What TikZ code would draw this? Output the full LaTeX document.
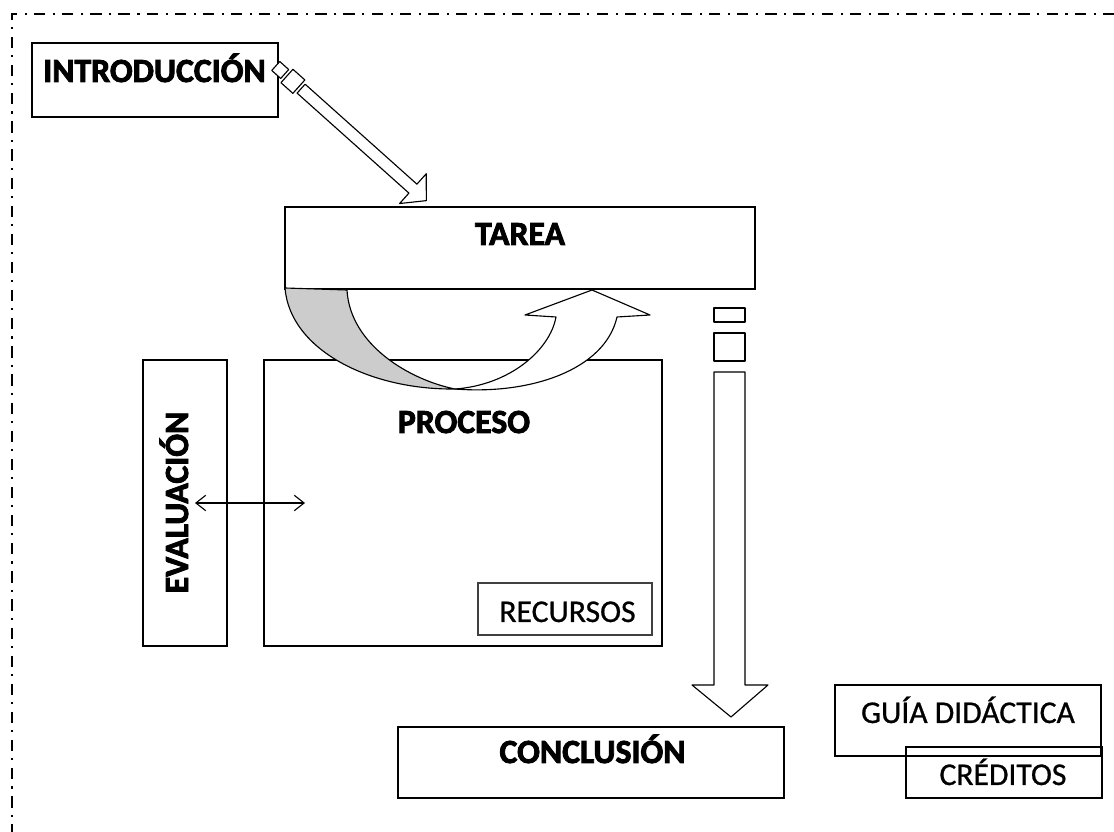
\documentclass[tikz,border=0pt]{standalone}
\usepackage{fontspec}
\setmainfont{Carlito}
\newfontfamily\heavyfont{Carlito}[BoldFeatures={FakeBold=2.5}]
\newfontfamily\lightfont{Carlito}[FakeBold=0.8]
\usetikzlibrary{arrows.meta}

\begin{document}
\begin{tikzpicture}[x=0.025cm,y=-0.025cm]
  \tikzstyle{box}=[draw,line width=1.3pt,inner sep=0pt]
  \tikzstyle{thinbox}=[draw,line width=0.9pt,inner sep=0pt]
  \tikzstyle{heading}=[anchor=base,inner sep=0pt,font=\heavyfont\bfseries\fontsize{24}{27}\selectfont]
  \tikzstyle{plain}=[anchor=base,inner sep=0pt,font=\lightfont\fontsize{22.5}{25}\selectfont]
  \tikzstyle{hollow}=[draw,line width=0.8pt,fill=white,line join=round]
  \useasboundingbox (0,0) rectangle (1114,832);
  % frame
  \draw[line width=1.5pt,dash pattern=on 8pt off 5pt on 1.5pt off 5.5pt] (1114,14) -- (12,14) -- (12,832);
  % boxes
  \node[box,minimum width=6.15cm,minimum height=1.85cm] (intro) at (155,80) {};
  \node[box,minimum width=11.75cm,minimum height=2.05cm] (tarea) at (520,248) {};
  \node[box,minimum width=2.1cm,minimum height=7.15cm] (eval) at (185,503) {};
  \node[box,minimum width=9.95cm,minimum height=7.15cm] (proceso) at (463,503) {};
  \node[thinbox,draw=black!75,minimum width=4.35cm,minimum height=1.3cm] (recursos) at (565,609) {};
  \node[box,minimum width=9.65cm,minimum height=1.775cm] (conclusion) at (591,762.5) {};
  \node[thinbox,minimum width=6.65cm,minimum height=1.775cm] (guia) at (968,720.5) {};
  \node[box,minimum width=4.9cm,minimum height=1.275cm] (creditos) at (1004,772.5) {};
  % introduccion -> tarea
  \coordinate (introout) at (278,68);
  \begin{scope}[shift={(introout)},rotate=-41.8]
    \draw[hollow] (-3,-6) rectangle (9,6);
    \draw[hollow] (12,-9) rectangle (28,9);
    \draw[hollow] (31,-6) -- (181,-6) -- (181,-20) -- (199,0) -- (181,20) -- (181,6) -- (31,6) -- cycle;
  \end{scope}
  % tarea -> conclusion
  \coordinate (tareaout) at (730,308);
  \begin{scope}[shift={(tareaout)}]
    \draw[hollow] (-16,0) rectangle (15,14);
    \draw[hollow] (-16,25) rectangle (15,53);
    \draw[hollow] (-16,64) -- (-16,377) -- (-38,377) -- (1,409) -- (38,377) -- (15,377) -- (15,64) -- cycle;
  \end{scope}
  % tarea <-> proceso
  \draw[draw,line width=0.8pt,fill=black!20] (285,288) .. controls (290,350) and (370,390) .. (455,389)
    .. controls (410,380) and (350,345) .. (347,290) -- cycle;
  \draw[hollow] (455,389) .. controls (510,385) and (550,350) .. (556,317) -- (525,315) -- (592,290)
    -- (650,315) -- (617,317) .. controls (605,370) and (530,395) .. (455,389) -- cycle;
  % evaluacion <-> proceso
  \coordinate (evalin) at (195,503);
  \coordinate (procin) at (305,503);
  \draw[{Straight Barb[length=7pt,width=11pt]}-{Straight Barb[length=7pt,width=11pt]},line width=0.8pt] (evalin) -- (procin);
  % labels
  \node[heading] (introlabel) at (154.5,82) {INTRODUCCIÓN};
  \node[heading] (tarealabel) at (520,245) {TAREA};
  \node[heading] (procesolabel) at (464,433) {PROCESO};
  \node[heading,rotate=90] (evallabel) at (188,502.5) {EVALUACIÓN};
  \node[heading] (conclusionlabel) at (592.5,763) {CONCLUSIÓN};
  \node[plain] (recursoslabel) at (567.5,622) {RECURSOS};
  \node[plain] (guialabel) at (968,723) {GUÍA DIDÁCTICA};
  \node[plain] (creditoslabel) at (1003,785) {CRÉDITOS};
\end{tikzpicture}
\end{document}
